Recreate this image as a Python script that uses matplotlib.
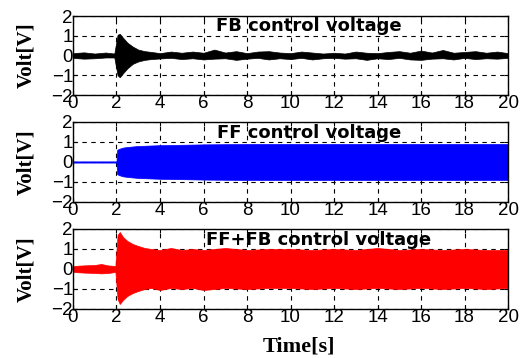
import matplotlib
matplotlib.use("Agg")
import matplotlib.pyplot as plt

fb_time = [0, 0.5, 1.0, 1.5, 1.9, 2.05, 2.15, 2.3, 2.5, 2.75, 3.0, 3.3, 3.6, 4.0, 4.5, 5.0, 5.5, 6.0,
           6.5, 7.0, 7.5, 8.0, 8.5, 9.0, 9.5, 10.0, 10.5, 11.0, 11.5, 12.0, 12.5, 13.0, 13.5, 14.0,
           14.5, 15.0, 15.5, 16.0, 16.5, 17.0, 17.5, 18.0, 18.5, 19.0, 19.5, 20.0]
fb_upper = [0.12, 0.16, 0.1, 0.15, 0.1, 1.05, 1.1, 0.9, 0.65, 0.45, 0.3, 0.22, 0.18, 0.12, 0.2, 0.14,
            0.2, 0.14, 0.3, 0.15, 0.22, 0.12, 0.2, 0.22, 0.15, 0.12, 0.2, 0.15, 0.1, 0.14, 0.1, 0.2,
            0.14, 0.12, 0.18, 0.22, 0.14, 0.25, 0.15, 0.28, 0.14, 0.18, 0.22, 0.14, 0.2, 0.12]
fb_lower = [-0.12, -0.16, -0.14, -0.1, -0.1, -1.0, -1.1, -0.9, -0.65, -0.42, -0.3, -0.22, -0.18,
            -0.15, -0.12, -0.18, -0.14, -0.2, -0.16, -0.14, -0.22, -0.16, -0.12, -0.2, -0.14, -0.18,
            -0.12, -0.2, -0.14, -0.12, -0.16, -0.14, -0.22, -0.14, -0.18, -0.12, -0.2, -0.22, -0.16,
            -0.14, -0.2, -0.12, -0.18, -0.14, -0.16, -0.12]

ff_time = [0, 2.0, 2.03, 2.1, 2.3, 2.6, 3.0, 3.5, 4.0, 5.0, 6.0, 8.0, 10.0, 12.0, 14.0, 16.0, 18.0, 20.0]
ff_upper = [0.03, 0.03, 0.6, 0.65, 0.72, 0.76, 0.8, 0.82, 0.84, 0.86, 0.88, 0.9, 0.9, 0.9, 0.9, 0.9, 0.9, 0.9]
ff_lower = [-0.03, -0.03, -0.6, -0.65, -0.72, -0.76, -0.8, -0.82, -0.84, -0.86, -0.88, -0.9, -0.9,
            -0.9, -0.9, -0.9, -0.9, -0.9]

sum_time = [0, 0.5, 1.0, 1.3, 1.6, 1.95, 2.05, 2.15, 2.3, 2.5, 2.75, 3.0, 3.3, 3.6, 4.0, 4.5, 5.0,
            5.5, 6.0, 7.0, 8.0, 9.0, 10.0, 11.0, 12.0, 13.0, 14.0, 15.0, 16.0, 17.0, 18.0, 19.0, 20.0]
sum_upper = [0.15, 0.18, 0.2, 0.25, 0.18, 0.15, 1.7, 1.85, 1.6, 1.4, 1.25, 1.15, 1.05, 1.0, 0.95,
             1.05, 0.95, 1.0, 0.95, 1.05, 0.95, 1.0, 1.0, 0.95, 1.0, 0.95, 1.05, 0.95, 1.0, 0.95,
             1.0, 0.95, 0.95]
sum_lower = [-0.15, -0.18, -0.2, -0.22, -0.2, -0.15, -1.5, -1.75, -1.55, -1.35, -1.2, -1.1, -1.0,
             -0.95, -1.05, -0.95, -1.0, -0.95, -1.05, -0.95, -1.0, -0.95, -0.95, -1.0, -0.95, -1.0,
             -0.95, -1.0, -0.95, -1.0, -0.95, -1.0, -0.95]

titles = ["FB control voltage", "FF control voltage", "FF+FB control voltage"]
colors = ["black", "#0000ff", "#ff0000"]
x_ticks = list(range(0, 21, 2))
y_ticks = [-2, -1, 0, 1, 2]

series = [(fb_time, fb_upper, fb_lower), (ff_time, ff_upper, ff_lower), (sum_time, sum_upper, sum_lower)]
boxes = [[0.1385, 0.7346, 0.8255, 0.2207],
         [0.1385, 0.4358, 0.8255, 0.2235],
         [0.1385, 0.1369, 0.8255, 0.2235]]
title_x = [10.85, 10.85, 11.3]

fig = plt.figure(figsize=(5.27, 3.58), dpi=100)
for (t, up, lo), box, title, color, tx in zip(series, boxes, titles, colors, title_x):
    ax = fig.add_axes(box)
    ax.fill_between(t, lo, up, color=color, linewidth=0.5, edgecolor=color)
    ax.set_xlim(0, 20)
    ax.set_ylim(-2, 2)
    ax.set_xticks(x_ticks)
    ax.set_yticks(y_ticks)
    ax.set_xticklabels([str(v) for v in x_ticks], family="Liberation Sans", fontsize=13.5)
    ax.set_yticklabels(["\u22122", "\u22121", "0", "1", "2"], family="Liberation Sans", fontsize=13.5)
    ax.tick_params(direction="in", length=3, width=0.8, top=True, right=True, pad=0)
    ax.grid(True, color="black", linestyle=(0, (4, 4)), linewidth=0.8)
    ax.set_axisbelow(True)
    for s in ax.spines.values():
        s.set_linewidth(1.0)
    ax.set_ylabel("Volt[V]", family="Liberation Serif", fontweight="bold", fontsize=15)
    ax.yaxis.set_label_coords(-0.085, 0.5)
    ax.text(tx, 1.02, title, ha="center", va="bottom", family="DejaVu Sans",
            fontweight="bold", fontsize=13)
    last = ax

last.set_xlabel("Time[s]", family="Liberation Serif", fontweight="bold", fontsize=16)
last.xaxis.set_label_coords(0.52, -0.35)
fig.savefig("out.png", dpi=100)
